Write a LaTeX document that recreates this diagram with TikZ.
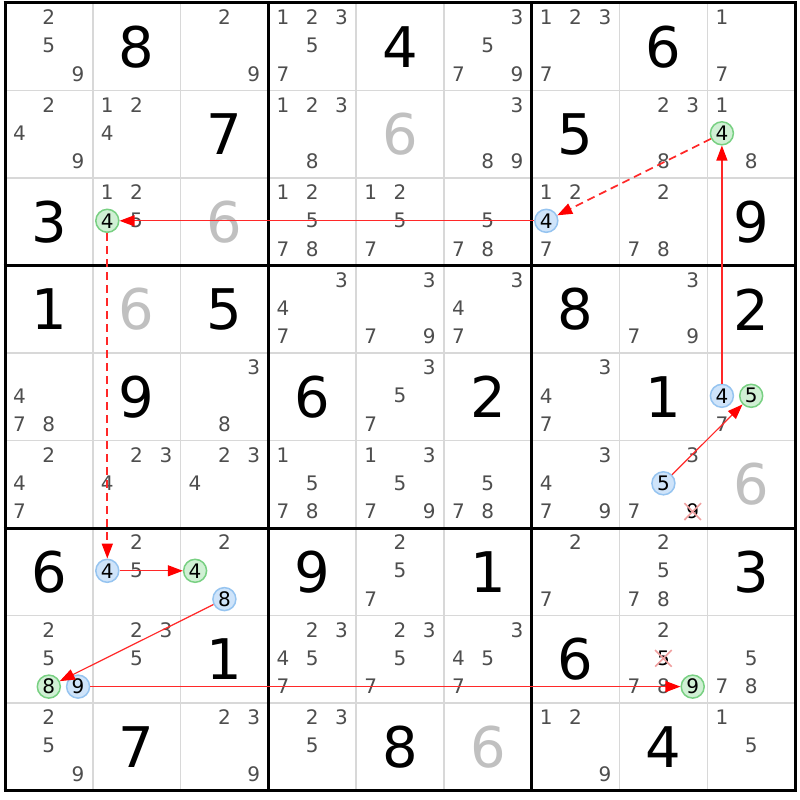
\documentclass[tikz,border=0pt]{standalone}
\usepackage{fontspec}
\setmainfont{DejaVu Sans}
\usetikzlibrary{arrows.meta,shapes.misc}
\definecolor{candc}{RGB}{78,78,78}
\definecolor{solvc}{RGB}{192,192,192}
\definecolor{thinc}{RGB}{216,216,216}
\definecolor{bfill}{RGB}{207,228,250}
\definecolor{bline}{RGB}{150,196,240}
\definecolor{gfill}{RGB}{208,240,212}
\definecolor{gline}{RGB}{120,208,130}
\definecolor{xcol}{RGB}{240,160,160}
\definecolor{arrc}{RGB}{255,40,40}
\definecolor{tipc}{RGB}{255,0,0}
\newcommand\cpos[3]{({5+#2*87.8+14.5+mod(#3-1,3)*29.3},{3+#1*87.5+14.5+floor((#3-1)/3)*28.3})}
\newcommand\Gv[3]{\node[bigd] (g#1#2) at ({5+(#2+0.5)*87.8},{3+(#1+0.5)*87.5}) {#3};}
\newcommand\Sv[3]{\node[bigd,text=solvc] (g#1#2) at ({5+(#2+0.5)*87.8},{3+(#1+0.5)*87.5}) {#3};}
\newcommand\Cd[3]{\foreach \d in {#3}{\node[candd] (c#1#2\d) at \cpos{#1}{#2}{\d} {\d};}}
\newcommand\Bc[3]{\node[candd,circd,fill=bfill,draw=bline] (b#1#2#3) at \cpos{#1}{#2}{#3} {#3};}
\newcommand\Kc[3]{\node[candd,circd,fill=gfill,draw=gline] (k#1#2#3) at \cpos{#1}{#2}{#3} {#3};}
\newcommand\Xc[3]{\node[candd,xout] (x#1#2#3) at \cpos{#1}{#2}{#3} {#3};}
\begin{document}
\begin{tikzpicture}[x=1pt,y=-1pt,
  bigd/.style={inner sep=0pt,font=\fontsize{56}{56}\selectfont,text=black},
  candd/.style={inner sep=0pt,font=\fontsize{20}{20}\selectfont,text=candc},
  circd/.style={circle,minimum size=23pt,line width=1.5pt,text=black},
  xout/.style={cross out,draw=xcol,line width=1.6pt,minimum size=15pt,text=black},
  arr/.style={draw=arrc,line width=1.2pt,-{Triangle[length=15pt,width=11pt,color=tipc]}},
  dsh/.style={line width=1.7pt,dash pattern=on 8pt off 5pt}]
\useasboundingbox[fill=white] (0,0) rectangle (800,800);
% grid
\foreach \i in {1,2,4,5,7,8}{
  \draw[thinc,line width=1.5pt] ({5+\i*87.8},3) -- ({5+\i*87.8},790.5);
  \draw[thinc,line width=1.5pt] (5,{3+\i*87.5}) -- (795.2,{3+\i*87.5});}
\foreach \i in {0,3,6,9}{
  \draw[black,line width=3pt] ({5+\i*87.8},1.5) -- ({5+\i*87.8},792);
  \draw[black,line width=3pt] (3.5,{3+\i*87.5}) -- (796.7,{3+\i*87.5});}
% row 0
\Cd{0}{0}{2,5,9} \Gv{0}{1}{8} \Cd{0}{2}{2,9} \Cd{0}{3}{1,2,3,5,7} \Gv{0}{4}{4} \Cd{0}{5}{3,5,7,9} \Cd{0}{6}{1,2,3,7} \Gv{0}{7}{6} \Cd{0}{8}{1,7}
% row 1
\Cd{1}{0}{2,4,9} \Cd{1}{1}{1,2,4} \Gv{1}{2}{7} \Cd{1}{3}{1,2,3,8} \Sv{1}{4}{6} \Cd{1}{5}{3,8,9} \Gv{1}{6}{5} \Cd{1}{7}{2,3,8} \Cd{1}{8}{1,8} \Kc{1}{8}{4}
% row 2
\Gv{2}{0}{3} \Cd{2}{1}{1,2,5} \Kc{2}{1}{4} \Sv{2}{2}{6} \Cd{2}{3}{1,2,5,7,8} \Cd{2}{4}{1,2,5,7} \Cd{2}{5}{5,7,8} \Cd{2}{6}{1,2,7} \Bc{2}{6}{4} \Cd{2}{7}{2,7,8} \Gv{2}{8}{9}
% row 3
\Gv{3}{0}{1} \Sv{3}{1}{6} \Gv{3}{2}{5} \Cd{3}{3}{3,4,7} \Cd{3}{4}{3,7,9} \Cd{3}{5}{3,4,7} \Gv{3}{6}{8} \Cd{3}{7}{3,7,9} \Gv{3}{8}{2}
% row 4
\Cd{4}{0}{4,7,8} \Gv{4}{1}{9} \Cd{4}{2}{3,8} \Gv{4}{3}{6} \Cd{4}{4}{3,5,7} \Gv{4}{5}{2} \Cd{4}{6}{3,4,7} \Gv{4}{7}{1} \Cd{4}{8}{7} \Bc{4}{8}{4} \Kc{4}{8}{5}
% row 5
\Cd{5}{0}{2,4,7} \Cd{5}{1}{2,3,4} \Cd{5}{2}{2,3,4} \Cd{5}{3}{1,5,7,8} \Cd{5}{4}{1,3,5,7,9} \Cd{5}{5}{5,7,8} \Cd{5}{6}{3,4,7,9} \Cd{5}{7}{3,7} \Bc{5}{7}{5} \Xc{5}{7}{9} \Sv{5}{8}{6}
% row 6
\Gv{6}{0}{6} \Cd{6}{1}{2,5} \Bc{6}{1}{4} \Cd{6}{2}{2} \Kc{6}{2}{4} \Bc{6}{2}{8} \Gv{6}{3}{9} \Cd{6}{4}{2,5,7} \Gv{6}{5}{1} \Cd{6}{6}{2,7} \Cd{6}{7}{2,5,7,8} \Gv{6}{8}{3}
% row 7
\Cd{7}{0}{2,5} \Kc{7}{0}{8} \Bc{7}{0}{9} \Cd{7}{1}{2,3,5} \Gv{7}{2}{1} \Cd{7}{3}{2,3,4,5,7} \Cd{7}{4}{2,3,5,7} \Cd{7}{5}{3,4,5,7} \Gv{7}{6}{6} \Cd{7}{7}{2,7,8} \Xc{7}{7}{5} \Kc{7}{7}{9} \Cd{7}{8}{5,7,8}
% row 8
\Cd{8}{0}{2,5,9} \Gv{8}{1}{7} \Cd{8}{2}{2,3,9} \Cd{8}{3}{2,3,5} \Gv{8}{4}{8} \Sv{8}{5}{6} \Cd{8}{6}{1,2,9} \Gv{8}{7}{4} \Cd{8}{8}{1,5}
% chain
\draw[arr,dsh] (k184) -- (b264);
\draw[arr] (b264) -- (k214);
\draw[arr,dsh] (k214) -- (b614);
\draw[arr] (b614) -- (k624);
\draw[arr] (b628) -- (k708);
\draw[arr] (b709) -- (k779);
\draw[arr] (b575) -- (k485);
\draw[arr] (b484) -- (k184);
\end{tikzpicture}
\end{document}
